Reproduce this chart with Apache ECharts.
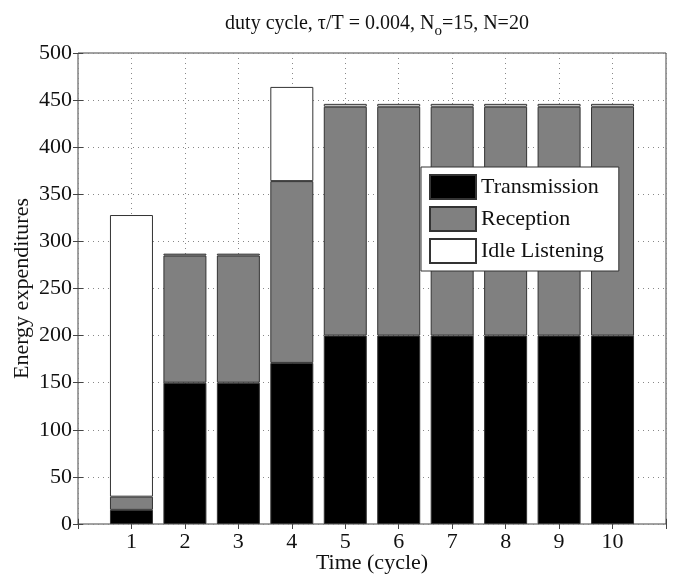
<!DOCTYPE html>
<html>
<head>
<meta charset="utf-8">
<script src="https://cdn.jsdelivr.net/npm/echarts@6/dist/echarts.min.js"></script>
<style>
  html, body { margin: 0; padding: 0; background: #fff; }
  #chart { width: 674px; height: 576px; }
</style>
</head>
<body>
<div id="chart"></div>
<script>
// cycles on the x axis
const cycles = ['1', '2', '3', '4', '5', '6', '7', '8', '9', '10']
// energy parts per cycle
const transmission = [15, 150, 150, 171, 200, 200, 200, 200, 200, 200]
const reception = [14, 135, 135, 193, 243, 243, 243, 243, 243, 243]
const idleListening = [299, 2, 2, 100, 3, 3, 3, 3, 3, 3]
const seriesNames = ['Transmission', 'Reception', 'Idle Listening']
const seriesColors = ['#000000', '#808080', '#ffffff']

const font = 'Liberation Serif, Times New Roman, serif'
const ink = '#111'

const chart = echarts.init(document.getElementById('chart'))

// frame grid spans x = 0..11, bar grid is inset by half a slot on each side
const frame = { left: 78, right: 8, top: 53, bottom: 52 }
const halfSlot = (674 - frame.left - frame.right) / 11 / 2

const makeBar = (name, data, color) => ({
  name: name,
  type: 'bar',
  stack: 'energy',
  xAxisIndex: 2,
  yAxisIndex: 2,
  barWidth: 43,
  data: data,
  itemStyle: {
    color: color,
    borderColor: '#333',
    borderWidth: 1
  },
  emphasis: { disabled: true }
})

const tick = { inside: true, length: 5, lineStyle: { color: '#444' } }
const dotted = { show: true, lineStyle: { type: [1, 4], color: '#888', width: 1 } }

const option = {
  backgroundColor: '#fff',
  animation: false,
  title: {
    text: '{a|duty cycle, τ/T = 0.004, N}{s|o}{a|=15, N=20}',
    left: 372,
    textAlign: 'center',
    top: 8,
    textStyle: {
      rich: {
        a: { fontFamily: font, fontSize: 20, fontWeight: 'normal', color: ink, lineHeight: 22 },
        s: { fontFamily: font, fontSize: 15, fontWeight: 'normal', color: ink, padding: [14, 0, 0, 0], lineHeight: 22 }
      }
    }
  },
  legend: {
    data: seriesNames,
    orient: 'vertical',
    left: 421,
    top: 167,
    itemWidth: 46,
    itemHeight: 24,
    itemGap: 6,
    padding: [7, 15, 7, 8],
    backgroundColor: '#fff',
    borderColor: '#333',
    borderWidth: 1,
    borderRadius: 0,
    icon: 'rect',
    selectedMode: false,
    textStyle: { fontFamily: font, fontSize: 22, color: ink }
  },
  grid: [
    {
      left: frame.left,
      right: frame.right,
      top: frame.top,
      bottom: frame.bottom,
      containLabel: false,
      outerBoundsMode: 'none',
      show: true,
      borderColor: '#444',
      borderWidth: 1,
      backgroundColor: 'transparent'
    },
    {
      left: frame.left + halfSlot,
      right: frame.right + halfSlot,
      top: frame.top,
      bottom: frame.bottom,
      containLabel: false,
      outerBoundsMode: 'none'
    }
  ],
  xAxis: [
    {
      gridIndex: 0,
      type: 'value',
      min: 0,
      max: 11,
      interval: 1,
      name: 'Time (cycle)',
      nameLocation: 'middle',
      nameGap: 28,
      nameMoveOverlap: false,
      nameTextStyle: { fontFamily: font, fontSize: 22, color: ink },
      axisLine: { show: false },
      axisTick: tick,
      axisLabel: {
        fontFamily: font, fontSize: 22, color: ink, margin: 7,
        formatter: v => (v >= 1 && v <= 10 ? String(v) : '')
      },
      splitLine: dotted
    },
    {
      gridIndex: 0,
      type: 'value',
      position: 'top',
      min: 0,
      max: 11,
      interval: 1,
      axisLine: { show: false },
      axisTick: tick,
      axisLabel: { show: false },
      splitLine: { show: false }
    },
    {
      gridIndex: 1,
      type: 'category',
      data: cycles,
      show: false
    }
  ],
  yAxis: [
    {
      gridIndex: 0,
      type: 'value',
      min: 0,
      max: 500,
      interval: 50,
      name: 'Energy expenditures',
      nameLocation: 'middle',
      nameGap: 45,
      nameMoveOverlap: false,
      nameTextStyle: { fontFamily: font, fontSize: 22, color: ink },
      axisLine: { show: false },
      axisTick: tick,
      axisLabel: { fontFamily: font, fontSize: 22, color: ink, margin: 6 },
      splitLine: dotted
    },
    {
      gridIndex: 0,
      type: 'value',
      position: 'right',
      min: 0,
      max: 500,
      interval: 50,
      axisLine: { show: false },
      axisTick: tick,
      axisLabel: { show: false },
      splitLine: { show: false }
    },
    {
      gridIndex: 1,
      type: 'value',
      min: 0,
      max: 500,
      show: false
    }
  ],
  series: [
    makeBar(seriesNames[0], transmission, seriesColors[0]),
    makeBar(seriesNames[1], reception, seriesColors[1]),
    makeBar(seriesNames[2], idleListening, seriesColors[2])
  ]
}

chart.setOption(option)
</script>
</body>
</html>
